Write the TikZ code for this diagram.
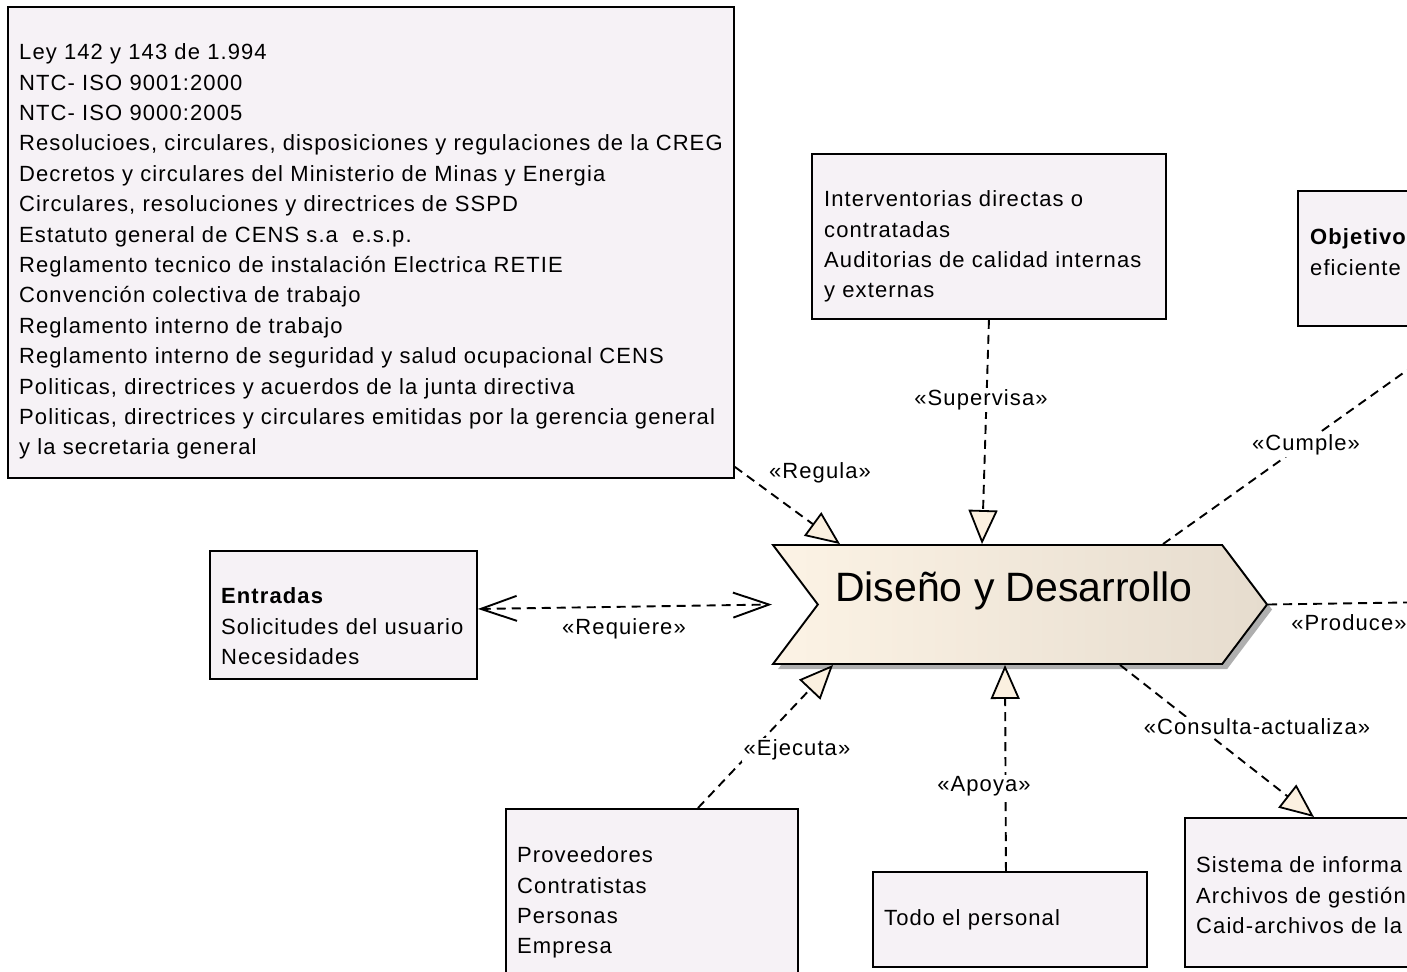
\documentclass[tikz,border=0pt]{standalone}
\usepackage{fontspec}
\setmainfont{Liberation Sans}[LetterSpace=5]
\newfontfamily\titlefont{Liberation Sans}
\usetikzlibrary{arrows.meta,shapes.symbols,shadows}

\definecolor{boxfill}{RGB}{246,242,246}
\definecolor{tipfill}{RGB}{251,240,224}
\definecolor{chevL}{RGB}{252,243,229}
\definecolor{chevR}{RGB}{230,220,206}
\definecolor{shadowgray}{RGB}{175,175,175}

\tikzset{
  box/.style={draw, line width=1.9pt, fill=boxfill, rectangle,
    anchor=north west, inner sep=0pt},
  boxtext/.style={anchor=north west, inner sep=0pt, align=left,
    font=\fontsize{22pt}{30.4pt}\selectfont},
  rel/.style={line width=1.9pt, dash pattern=on 9pt off 6pt},
  realize/.style={rel,
    -{Triangle[length=34pt,width=29pt,fill=tipfill,line width=1.8pt]}},
  needs/.style={rel,
    {Straight Barb[length=36pt,width=25pt]}-{Straight Barb[length=36pt,width=25pt]}},
  stereo/.style={fill=white, inner sep=1.5pt,
    font=\fontsize{22pt}{24pt}\selectfont},
}

\begin{document}
\begin{tikzpicture}[x=1pt, y=-1pt]
\useasboundingbox (0,0) rectangle (1407,971);
\clip (0,0) rectangle (1407,971);

% ---- surrounding boxes
\node[box, minimum width=726pt, minimum height=471pt] (laws) at (7,6) {};
\node[boxtext] (lawsText) at (19,43.5) {Ley 142 y 143 de 1.994\\
NTC- ISO 9001:2000\\
NTC- ISO 9000:2005\\
Resolucioes, circulares, disposiciones y regulaciones de la CREG\\
Decretos y circulares del Ministerio de Minas y Energia\\
Circulares, resoluciones y directrices de SSPD\\
Estatuto general de CENS s.a\ \ e.s.p.\\
Reglamento tecnico de instalación Electrica RETIE\\
Convención colectiva de trabajo\\
Reglamento interno de trabajo\\
Reglamento interno de seguridad y salud ocupacional CENS\\
Politicas, directrices y acuerdos de la junta directiva\\
Politicas, directrices y circulares emitidas por la gerencia general\\
y la secretaria general};

\node[box, minimum width=354pt, minimum height=165pt] (sup) at (811,153) {};
\node[boxtext] (supText) at (824,190.5) {Interventorias directas o\\
contratadas\\
Auditorias de calidad internas\\
y externas};

\node[box, minimum width=300pt, minimum height=135pt] (obj) at (1297,190) {};
\node[boxtext] (objText) at (1310,228.5) {\textbf{Objetivo}\\
eficiente};

\node[box, minimum width=267pt, minimum height=128pt] (ent) at (209,550) {};
\node[boxtext] (entText) at (221,587.5) {\textbf{Entradas}\\
Solicitudes del usuario\\
Necesidades};

\node[box, minimum width=292pt, minimum height=200pt] (prov) at (505,808) {};
\node[boxtext] (provText) at (517,846.5) {Proveedores\\
Contratistas\\
Personas\\
Empresa};

\node[box, minimum width=274pt, minimum height=95pt] (todo) at (872,871) {};
\node[boxtext] (todoText) at (884,909.5) {Todo el personal};

\node[box, minimum width=300pt, minimum height=149pt] (sis) at (1184,817) {};
\node[boxtext] (sisText) at (1196,856.5) {Sistema de informa\\
Archivos de gestión\\
Caid-archivos de la};

% ---- central process
\node[signal, signal from=west, signal to=east, signal pointer angle=106,
  minimum width=494pt, minimum height=119pt, inner sep=0pt,
  draw, line width=1.9pt, left color=chevL, right color=chevR,
  drop shadow={shadow xshift=5pt, shadow yshift=-5pt, fill=shadowgray, opacity=1}]
  (dd) at (1020,604.5) {};
\node[inner sep=0pt, font=\titlefont\fontsize{41pt}{41pt}\selectfont]
  (ddText) at (1014,591) {Diseño y Desarrollo};

\coordinate (prodEnd) at (1440,602);

% ---- relations
\draw[realize] ([yshift=12pt]laws.south east) -- ([xshift=-180pt]dd.north);
\draw[realize] (sup.south) -- ([xshift=-38pt]dd.north);
\draw[realize] ([xshift=143pt]dd.north) -- ([xshift=20pt]obj.south);
\draw[needs] ([yshift=6pt]ent.east) -- ([xshift=-248pt]dd.center);
\draw[rel] (dd.east) -- (prodEnd);
\draw[realize] ([xshift=46pt]prov.north) -- ([xshift=-187pt]dd.south);
\draw[realize] ([xshift=-4pt]todo.north) -- ([xshift=-15pt]dd.south);
\draw[realize] ([xshift=100pt]dd.south) -- ([xshift=-21pt]sis.north);

% ---- stereotypes
\node[stereo] (lRegula) at (820,473) {«Regula»};
\node[stereo] (lSupervisa) at (981,400) {«Supervisa»};
\node[stereo] (lCumple) at (1306,445) {«Cumple»};
\node[stereo, fill=none] (lRequiere) at (624,629) {«Requiere»};
\node[stereo, fill=none] (lProduce) at (1349,623) {«Produce»};
\node[stereo] (lEjecuta) at (797,750) {«Ejecuta»};
\node[stereo] (lApoya) at (984,786) {«Apoya»};
\node[stereo] (lConsulta) at (1257,727) {«Consulta-actualiza»};
\end{tikzpicture}
\end{document}
